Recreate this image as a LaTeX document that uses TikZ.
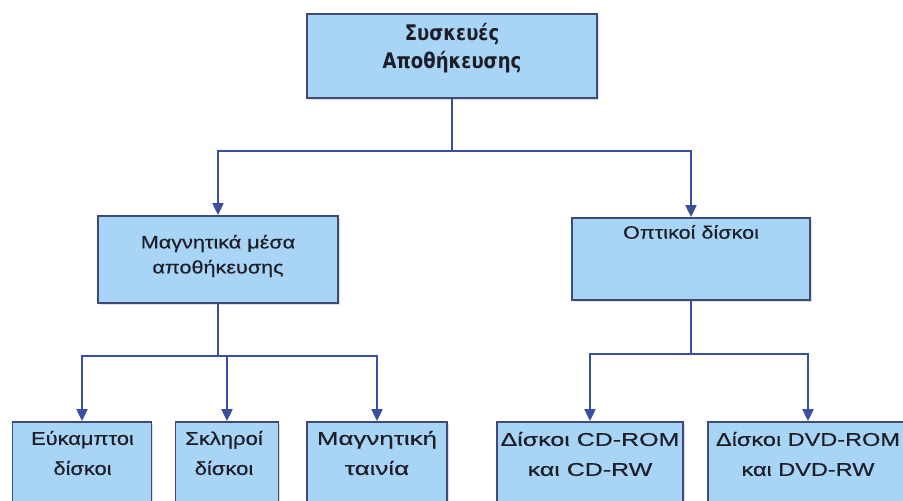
\documentclass[tikz,border=0pt]{standalone}
\usepackage{fontspec}
\setmainfont{Liberation Sans}
\newfontfamily\headfont[FakeStretch=0.84]{DejaVu Sans}
\newfontfamily\midfont[FakeStretch=1.2,FakeBold=0.4]{Liberation Sans}
\usetikzlibrary{arrows.meta,shadows}
\definecolor{boxfill}{HTML}{A8D4F5}
\definecolor{boxline}{HTML}{3E4A78}
\definecolor{wire}{HTML}{3A4F9E}
\definecolor{ink}{HTML}{1E1E28}
% bottom-row captions get their own horizontal stretch
\newcommand{\lowfontwide}[1]{\fontspec[FakeStretch=#1,FakeBold=0.4]{Liberation Sans}\fontsize{18.5}{30}\selectfont}
\begin{document}
\begin{tikzpicture}[x=1pt,y=-1pt,
  box/.style={draw=boxline, line width=1.8pt, fill=boxfill, inner sep=0pt,
    drop shadow={shadow xshift=1.5pt, shadow yshift=-2pt, fill=black!25}},
  boxtext/.style={text=ink, align=center, inner sep=0pt},
  headtext/.style={boxtext, font=\headfont\bfseries\fontsize{21.5}{28}\selectfont},
  midtext/.style={boxtext, font=\midfont\fontsize{18}{25}\selectfont},
  lowtext/.style={boxtext, font=\lowfontwide{#1}},
  link/.style={draw=wire, line width=2pt, -{Triangle[width=11pt,length=12pt]}}
]
\clip (0,0) rectangle (903,501);
\fill[white] (0,0) rectangle (903,501);

% top level
\node[box, minimum width=290pt, minimum height=84pt] (top) at (452,56) {};
\node[headtext] (toptext) at (452,48) {Συσκευές\\Αποθήκευσης};

% second level
\node[box, minimum width=240pt, minimum height=87pt] (midL) at (218,259.5) {};
\node[midtext] (midLtext) at (218,256) {Μαγνητικά μέσα\\αποθήκευσης};
\node[box, minimum width=238pt, minimum height=82pt] (midR) at (691,259) {};
\node[midtext] (midRtext) at (691,232) {Οπτικοί δίσκοι};

% third level (boxes run past the lower edge)
\node[box, minimum width=139pt, minimum height=108pt] (b1) at (82,476) {};
\node[box, minimum width=103pt, minimum height=108pt] (b2) at (227,476) {};
\node[box, minimum width=140pt, minimum height=108pt] (b3) at (377,476) {};
\node[box, minimum width=186pt, minimum height=108pt] (b4) at (590,476) {};
\node[box, minimum width=200pt, minimum height=108pt] (b5) at (808,476) {};
\node[lowtext=1.18] (b1text) at (82.5,453) {Εύκαμπτοι\\δίσκοι};
\node[lowtext=1.19] (b2text) at (224,453) {Σκληροί\\δίσκοι};
\node[lowtext=1.4] (b3text) at (377,453) {Μαγνητική\\ταινία};
\node[lowtext=1.35] (b4text) at (590,454) {Δίσκοι CD-ROM\\και CD-RW};
\node[lowtext=1.27] (b5text) at (808,454) {Δίσκοι DVD-ROM\\και DVD-RW};

% connectors
\draw[link] (top.south) -- ++(0,52) -| (midL.north);
\draw[link] (top.south) -- ++(0,52) -| (midR.north);
\draw[link] (midL.south) -- ++(0,52) -| (b1.north);
\draw[link] (midL.south) -- ++(0,52) -| (b2.north);
\draw[link] (midL.south) -- ++(0,52) -| (b3.north);
\draw[link] (midR.south) -- ++(0,53) -| (b4.north);
\draw[link] (midR.south) -- ++(0,53) -| (b5.north);
\end{tikzpicture}
\end{document}
